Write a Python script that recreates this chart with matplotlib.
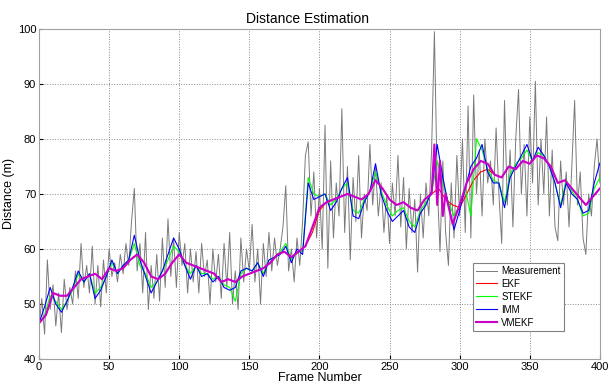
import matplotlib
matplotlib.use('Agg')
import matplotlib.pyplot as plt
import numpy as np

plt.rcParams['font.family'] = ['Liberation Sans', 'DejaVu Sans']

meas_frames = np.arange(0, 401, 2)
measurement = [
    45.5, 51, 44.5, 58, 49, 53.5, 46, 52, 44.8, 54.5,
    49, 53, 50, 56, 51, 61, 53, 57, 52, 60.5,
    50, 57, 49.5, 58, 52, 60, 55, 57.5, 54, 59,
    55.5, 61, 57, 65, 71, 56, 61, 52, 63, 49,
    57, 51, 59, 50.5, 62, 53, 65.5, 55, 62, 53,
    63, 57, 61, 52, 60, 54, 59.5, 52, 61, 55,
    58, 50, 60, 54, 59, 51, 61, 53, 63, 50,
    56, 49, 62, 54, 60, 56, 64.5, 54, 60, 50,
    61, 55, 63, 56, 62, 57, 60, 64, 71.5, 56,
    60, 54, 62, 57, 65, 77, 79.5, 66, 74, 62,
    71, 60, 82.5, 56.5, 76, 62, 72, 66, 85.5, 63,
    75, 58, 73, 65, 77, 62, 70, 67, 79, 68,
    75, 66, 72, 63, 70, 61, 72, 66, 77, 64,
    73, 60, 71, 63, 69, 55.8, 70, 62, 72, 66,
    78, 99.5, 72, 59.5, 76, 63, 57, 72, 62, 77,
    66, 80, 63, 86, 62, 88, 70, 78, 66, 80,
    72, 76, 68, 82, 70, 61, 87, 68, 78, 64,
    80, 89, 70, 79, 66, 84, 72, 90.5, 68, 80,
    70, 84, 66, 78, 64, 61.5, 76, 68, 74, 64,
    75, 87, 68, 74, 62, 59, 70, 66, 75, 80,
    72,
]

# EKF, every 5 frames
ekf_frames = np.arange(0, 401, 5)
ekf = [
    46.5, 48, 52, 51.5, 51.5, 53, 54.5, 55, 55.5, 54.5,
    56.5, 56, 56.5, 58, 59, 57.5, 55, 54.5, 55.5, 57.5,
    59, 57.5, 57, 56.5, 56, 55.5, 54, 54.5, 54, 55,
    55.5, 56, 56.5, 57.5, 59, 59.5, 58.5, 59.5, 60.5, 63,
    67, 68.5, 69, 69.5, 70, 69.5, 69, 70, 72.5, 71,
    69, 68, 68.5, 67.5, 67, 69, 70, 71, 69, 68,
    67.5, 70, 72.5, 74, 74.5, 73.5, 73, 75, 74.5, 76,
    75.5, 77, 76.5, 75, 72, 72.5, 71, 69.5, 68, 69.5,
    71,
]

# STEKF and IMM, every 4 frames
filt_frames = np.arange(0, 401, 4)
stekf = [
    46.5, 48, 51.5, 50.5, 49, 50.5, 52.5, 55.5, 54, 55.5,
    52, 53, 55, 57.5, 55.5, 57, 58, 61, 57, 55.5,
    53, 54, 56, 58, 60.5, 59.5, 57, 55.5, 57, 55.5,
    55.5, 54.5, 55, 53.5, 53, 50.5, 55.5, 56.5, 56, 57.5,
    55.5, 58, 58.5, 59.5, 61, 58, 59.5, 59.5, 73, 70,
    69.5, 70, 68, 69, 71, 72, 67, 66.5, 69, 70.5,
    74, 70.5, 68, 66, 67, 67.5, 65, 64, 67, 68.5,
    70, 76, 72, 68.5, 66, 68, 71, 66, 80, 78,
    74.5, 72.5, 72, 68.5, 73.5, 75.5, 76.5, 78, 76, 77.5,
    77, 75, 72, 68, 72.5, 70.5, 69, 66, 66.5, 71,
    73,
]
imm = [
    46.5, 49.5, 53, 50, 48.5, 50.5, 53, 56, 54, 55.5,
    51, 52.5, 55, 58, 55.5, 57, 58, 62.5, 58, 55,
    52, 54, 56, 59, 62, 60, 57, 54.5, 57, 55,
    55.5, 54, 55, 53, 52.5, 53, 56, 56.5, 56, 57.5,
    55, 58, 58.5, 59, 60.5, 57.5, 60, 59, 72, 69,
    69.5, 70, 67, 68.5, 71, 73, 66, 65.5, 68.5, 70.5,
    75.5, 70, 67, 65, 66, 67, 64, 63, 66.5, 68,
    70.5, 79, 73, 68, 63.5, 67, 71, 75, 76.5, 79,
    74, 72, 72, 67.5, 73, 75, 77, 79, 76, 78.5,
    77, 75, 72, 67.5, 72, 70, 69, 66.5, 67, 72,
    75.6,
]

# VMEKF, every 5 frames plus the spiky part near frame 283
vmekf_frames = [
    0, 5, 10, 15, 20, 25, 30, 35, 40, 45,
    50, 55, 60, 65, 70, 75, 80, 85, 90, 95,
    100, 105, 110, 115, 120, 125, 130, 135, 140, 145,
    150, 155, 160, 165, 170, 175, 180, 185, 190, 195,
    200, 205, 210, 215, 220, 225, 230, 235, 240, 245,
    250, 255, 260, 265, 270, 275, 280, 282, 284, 286,
    288, 290, 295, 300, 305, 310, 315, 320, 325, 330,
    335, 340, 345, 350, 355, 360, 365, 370, 375, 380,
    385, 390, 395, 400,
]
vmekf = [
    46.5, 48, 52, 51.5, 51.5, 53, 54.5, 55, 55.5, 54.5,
    56.5, 56, 56.5, 58, 59, 57.5, 55, 54.5, 55.5, 57.5,
    59, 57.5, 57, 56.5, 56, 55.5, 54, 54.5, 54, 55,
    55.5, 56, 56.5, 57.5, 59, 59.5, 58.5, 59.5, 60.5, 64,
    67.5, 68.5, 69, 69.5, 70, 69.5, 69, 70, 72.5, 71,
    69, 68, 68.5, 67.5, 67, 69, 70, 79, 68, 76,
    66, 70, 64.5, 68, 72, 74.5, 76, 75.5, 73.5, 73,
    75, 74.5, 76, 75.5, 77, 76.5, 75, 72, 72.5, 71,
    69.5, 68, 69.5, 71,
]

fig = plt.figure(figsize=(6.09, 3.86), dpi=100)
ax = fig.add_axes([0.064, 0.070, 0.921, 0.855])

ax.plot(meas_frames, measurement, color='#7a7a7a', lw=0.7, label='Measurement')
ax.plot(ekf_frames, ekf, color='red', lw=0.8, label='EKF')
ax.plot(filt_frames, stekf, color='#00ff00', lw=0.8, label='STEKF')
ax.plot(filt_frames, imm, color='blue', lw=0.8, label='IMM')
ax.plot(vmekf_frames, vmekf, color='#cc00cc', lw=1.5, label='VMEKF')

ax.set_xlim(0, 400)
ax.set_ylim(40, 100)
ax.set_xticks(np.arange(0, 401, 50))
ax.set_yticks(np.arange(40, 101, 10))
ax.tick_params(direction='in', length=3, labelsize=8, pad=2)
ax.grid(True, linestyle=':', color='#888888', lw=0.7)
for s in ax.spines.values():
    s.set_color('#a0a0a0')

ax.set_title('Distance Estimation', fontsize=10, pad=4, x=0.478)
ax.set_xlabel('Frame Number', fontsize=9, labelpad=0)
ax.set_ylabel('Distance (m)', fontsize=9, labelpad=2)

leg = ax.legend(loc='lower right', bbox_to_anchor=(0.945, 0.07), fontsize=7,
                fancybox=False, edgecolor='#808080', framealpha=1,
                handlelength=2.2, handletextpad=0.4, borderpad=0.35,
                labelspacing=0.3)
leg.get_frame().set_linewidth(0.8)

fig.savefig('out.png', dpi=100)
